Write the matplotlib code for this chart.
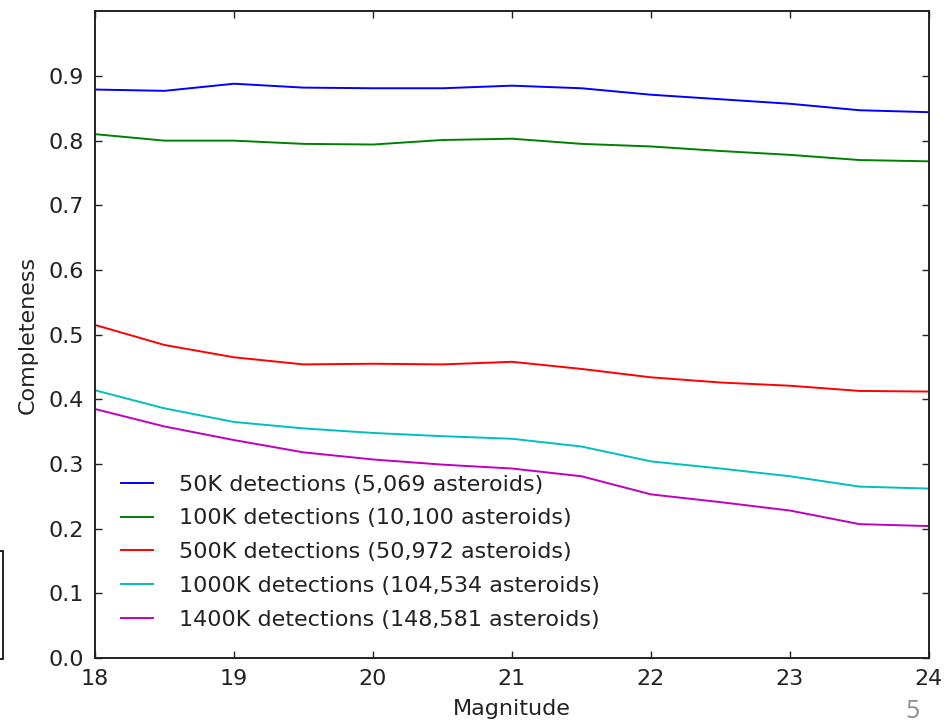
import numpy as np
import matplotlib
matplotlib.use("Agg")
import matplotlib.pyplot as plt
from matplotlib.patches import Rectangle

# Completeness as a function of magnitude for several detection-count runs
magnitude = [18.0, 18.5, 19.0, 19.5, 20.0, 20.5, 21.0, 21.5, 22.0, 22.5, 23.0, 23.5, 24.0]

det_50k = [0.879, 0.877, 0.888, 0.882, 0.881, 0.881, 0.885, 0.881, 0.871, 0.864, 0.857, 0.847, 0.844]
det_100k = [0.810, 0.800, 0.800, 0.795, 0.794, 0.801, 0.803, 0.795, 0.791, 0.784, 0.778, 0.770, 0.768]
det_500k = [0.515, 0.484, 0.465, 0.454, 0.455, 0.454, 0.458, 0.447, 0.434, 0.426, 0.421, 0.413, 0.412]
det_1000k = [0.414, 0.386, 0.365, 0.355, 0.348, 0.343, 0.339, 0.327, 0.304, 0.293, 0.281, 0.265, 0.262]
det_1400k = [0.385, 0.358, 0.337, 0.318, 0.307, 0.299, 0.293, 0.281, 0.253, 0.241, 0.228, 0.207, 0.204]

labels = [
    "50K detections (5,069 asteroids)",
    "100K detections (10,100 asteroids)",
    "500K detections (50,972 asteroids)",
    "1000K detections (104,534 asteroids)",
    "1400K detections (148,581 asteroids)",
]
colors = ["#0000ff", "#008000", "#ff0000", "#00bfbf", "#bf00bf"]
series = [det_50k, det_100k, det_500k, det_1000k, det_1400k]

x_ticks = [18, 19, 20, 21, 22, 23, 24]
y_ticks = [0.0, 0.1, 0.2, 0.3, 0.4, 0.5, 0.6, 0.7, 0.8, 0.9]

plt.rcParams["font.family"] = ["DejaVu Sans"]
FS = 16

W, H = 947, 726
fig = plt.figure(figsize=(W / 100, H / 100), dpi=100)
fig.patch.set_facecolor("white")

ax = fig.add_axes([95 / W, 1 - 658 / H, (929 - 95) / W, (658 - 11.3) / H])

for vals, lab, col in zip(series, labels, colors):
    ax.plot(magnitude, vals, color=col, lw=1.4, label=lab)

ax.set_xlim(18, 24)
ax.set_ylim(0, 1.0)
ax.set_xticks(x_ticks)
ax.set_yticks(y_ticks)
ax.set_yticklabels([f"{v:.1f}" for v in y_ticks])

ax.tick_params(direction="in", length=5, width=1.0, colors="#222222",
               labelsize=FS, top=True, right=True, pad=8)
for sp in ax.spines.values():
    sp.set_linewidth(1.4)
    sp.set_color("#222222")

ax.set_xlabel("Magnitude", fontsize=FS, color="#222222", labelpad=7)
ax.set_ylabel("Completeness", fontsize=FS, color="#222222", labelpad=8)

leg = ax.legend(loc="lower left", frameon=False, fontsize=FS,
                handlelength=1.45, handletextpad=1.2, labelspacing=0.62,
                bbox_to_anchor=(0.02, 0.03), borderaxespad=0)
for t in leg.get_texts():
    t.set_color("#222222")

# Edge of a neighbouring box on the page
fig.patches.append(Rectangle((-20 / W, 1 - 659 / H), 23 / W, (659 - 551) / H,
                             transform=fig.transFigure, fill=False,
                             edgecolor="black", lw=1.2))

# Page number
fig.text(912 / W, 1 - 718 / H, "5", fontsize=18, color="#8c8c8c",
         family=["Open Sans", "DejaVu Sans"], ha="center", va="baseline")

fig.savefig("out.png", dpi=100, facecolor="white")
